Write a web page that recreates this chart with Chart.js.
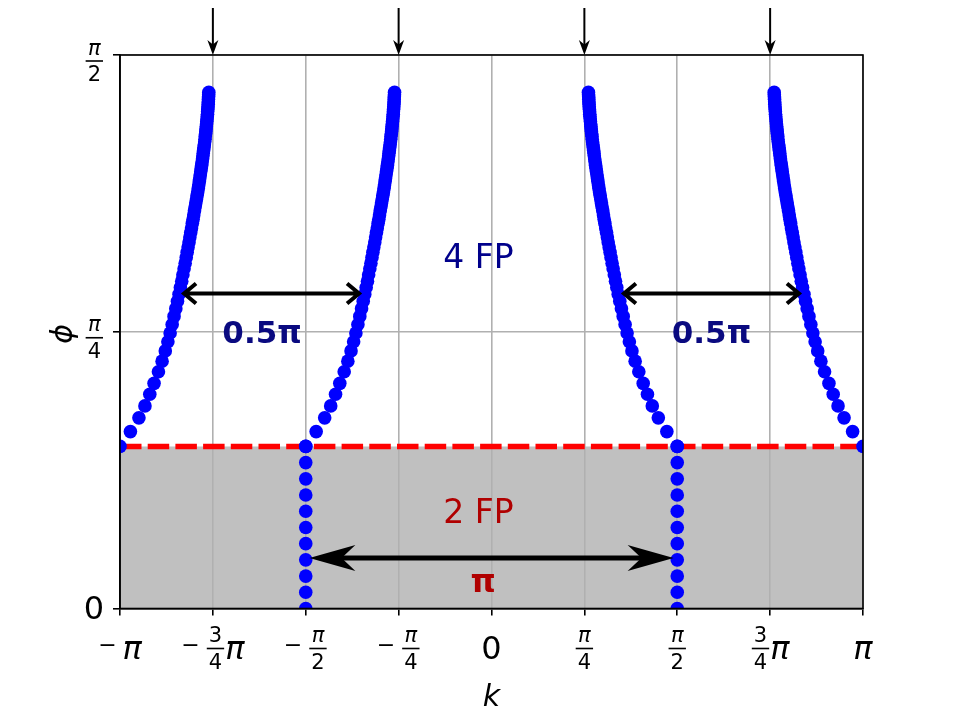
<!DOCTYPE html>
<html>
<head>
<meta charset="utf-8">
<title>Fixed points vs k</title>
<style>
  html, body { margin: 0; padding: 0; background: #fff; }
  #wrap { width: 960px; height: 720px; }
</style>
</head>
<body>
<div id="wrap"><canvas id="phiChart" width="960" height="720"></canvas></div>
<script src="https://cdn.jsdelivr.net/npm/chart.js@4.4.1/dist/chart.umd.min.js"></script>
<script>
const PI = Math.PI;

// phi where the 4 fixed points collapse into 2
const phiCrit = 0.46;

// one branch: phi, and how far k has moved from the branch root
const branchPhi = [0.460, 0.502, 0.541, 0.575, 0.608, 0.639, 0.672, 0.702, 0.731, 0.757,
  0.782, 0.806, 0.829, 0.851, 0.872, 0.892, 0.911, 0.929, 0.947, 0.964,
  0.980, 0.996, 1.011, 1.026, 1.040, 1.054, 1.067, 1.080, 1.093, 1.105,
  1.117, 1.129, 1.140, 1.151, 1.162, 1.172, 1.182, 1.192, 1.202, 1.212,
  1.222, 1.231, 1.240, 1.249, 1.258, 1.267, 1.276, 1.284, 1.292, 1.300,
  1.308, 1.316, 1.324, 1.332, 1.340, 1.347, 1.354, 1.361, 1.368, 1.375,
  1.382, 1.389, 1.396, 1.403, 1.410, 1.417, 1.424, 1.431, 1.438, 1.445,
  1.452, 1.458, 1.465];
const branchOffset = [0.000, 0.088, 0.160, 0.211, 0.252, 0.288, 0.325, 0.356, 0.383, 0.405,
  0.424, 0.441, 0.457, 0.472, 0.486, 0.499, 0.511, 0.522, 0.532, 0.542,
  0.551, 0.560, 0.568, 0.576, 0.584, 0.591, 0.598, 0.605, 0.612, 0.618,
  0.624, 0.630, 0.636, 0.641, 0.647, 0.652, 0.657, 0.662, 0.666, 0.671,
  0.675, 0.679, 0.683, 0.687, 0.691, 0.694, 0.698, 0.701, 0.704, 0.707,
  0.710, 0.713, 0.716, 0.719, 0.721, 0.724, 0.726, 0.728, 0.730, 0.732,
  0.734, 0.736, 0.738, 0.740, 0.741, 0.743, 0.744, 0.746, 0.747, 0.748,
  0.749, 0.750, 0.751];
// the four branches start at these k and run right (+1) or left (-1)
const branchRoot = [-PI, -PI / 2, PI / 2, PI];
const branchDir = [1, 1, -1, -1];

// the 2 FP columns below phiCrit
const columnK = [-PI / 2, PI / 2];
const columnPhi = [0, 0.046, 0.092, 0.138, 0.184, 0.230, 0.276, 0.322, 0.368, 0.414, 0.460];

// ticks
const xTickValues = [-PI, -3 * PI / 4, -PI / 2, -PI / 4, 0, PI / 4, PI / 2, 3 * PI / 4, PI];
const xTickLabels = ['−π', '−[3/4]π', '−[π/2]', '−[π/4]', '0', '[π/4]', '[π/2]', '[3/4]π', 'π'];
const yTickValues = [0, PI / 4, PI / 2];
const yTickLabels = ['0', '[π/4]', '[π/2]'];

// annotations (data units)
const noteText = ['4 FP', '2 FP', '0.5π', '0.5π', 'π'];
const noteK = [-0.11, -0.11, -1.94, 1.86, -0.07];
const notePhi = [0.966, 0.242, 0.753, 0.753, 0.048];
const gapFromK = [-2.60, 1.12];
const gapToK = [-1.12, 2.60];
const gapPhi = 0.894;
const wideFromK = -1.54, wideToK = 1.54, widePhi = 0.143;
const topArrowK = [-3 * PI / 4, -PI / 4, PI / 4, 3 * PI / 4];

const FONT = '"DejaVu Sans", "Noto Sans", sans-serif';
const noteStyle = [
  {font: '33px ' + FONT, color: '#00008b'},
  {font: '33px ' + FONT, color: '#b00000'},
  {font: 'bold 31px ' + FONT, color: '#0a0a80'},
  {font: 'bold 31px ' + FONT, color: '#0a0a80'},
  {font: 'bold 32px ' + FONT, color: '#b00000'}
];

function branchPoints(b) {
  return branchPhi.map((p, i) => ({x: branchRoot[b] + branchDir[b] * branchOffset[i], y: p}));
}

let datasets = [];
for (let b = 0; b < branchRoot.length; b++) {
  datasets.push({data: branchPoints(b), order: 1});
}
columnK.forEach(k => {
  datasets.push({data: columnPhi.map(p => ({x: k, y: p})), order: 1});
});
datasets = datasets.map(d => Object.assign(d, {
  pointRadius: 6.8, pointBackgroundColor: '#0000ff', pointBorderWidth: 0,
  showLine: false, clip: 0
}));
datasets.push({
  type: 'line',
  data: [{x: -PI, y: phiCrit}, {x: PI, y: phiCrit}],
  borderColor: '#ff0000', borderWidth: 5.5, borderDash: [21.5, 6.2],
  fill: 'origin', backgroundColor: '#c0c0c0',
  pointRadius: 0, order: 5, clip: 0
});

// math-ish tick labels: [a/b] is a fraction
const MAIN = 32, SMALL = 21;
function mathFont(s, size) {
  return (s === 'π' ? 'italic ' : '') + size + 'px ' + FONT;
}
function layoutMath(ctx, label) {
  const toks = [];
  let i = 0;
  while (i < label.length) {
    const c = label[i];
    if (c === '[') {
      const j = label.indexOf(']', i);
      const parts = label.slice(i + 1, j).split('/');
      ctx.font = mathFont(parts[0], SMALL);
      const wn = ctx.measureText(parts[0]).width;
      ctx.font = mathFont(parts[1], SMALL);
      const wd = ctx.measureText(parts[1]).width;
      toks.push({kind: 'frac', n: parts[0], d: parts[1], w: Math.max(wn, wd) + 6});
      i = j + 1;
    } else if (c === '−') {
      ctx.font = '22px ' + FONT;
      toks.push({kind: 'minus', w: ctx.measureText('−').width + 6});
      i++;
    } else {
      ctx.font = mathFont(c, MAIN);
      toks.push({kind: 'ch', t: c, w: ctx.measureText(c).width});
      i++;
    }
  }
  return toks;
}
function drawMath(ctx, label, x, base, align) {
  const toks = layoutMath(ctx, label);
  const total = toks.reduce((s, t) => s + t.w, 0);
  let cx = align === 'right' ? x - total : x - total / 2;
  ctx.fillStyle = '#000';
  ctx.textBaseline = 'alphabetic';
  toks.forEach(t => {
    if (t.kind === 'frac') {
      const mid = cx + t.w / 2;
      ctx.textAlign = 'center';
      ctx.font = mathFont(t.n, SMALL);
      ctx.fillText(t.n, mid, base - 17);
      ctx.font = mathFont(t.d, SMALL);
      ctx.fillText(t.d, mid, base + 9.5);
      ctx.fillRect(cx + 1, base - 11.3, t.w - 2, 1.6);
    } else if (t.kind === 'minus') {
      ctx.textAlign = 'left';
      ctx.font = '22px ' + FONT;
      ctx.fillText('−', cx, base - 6.7);
    } else {
      ctx.textAlign = 'left';
      ctx.font = mathFont(t.t, MAIN);
      ctx.fillText(t.t, cx, base);
    }
    cx += t.w;
  });
}

function barbHead(ctx, tx, ty, ux, uy, len, half, notch) {
  const nx = -uy, ny = ux;
  const bx = tx - ux * len, by = ty - uy * len;
  ctx.beginPath();
  ctx.moveTo(tx, ty);
  ctx.lineTo(bx + nx * half, by + ny * half);
  ctx.lineTo(tx - ux * len * notch, ty - uy * len * notch);
  ctx.lineTo(bx - nx * half, by - ny * half);
  ctx.closePath();
  ctx.fill();
}

const decor = {
  id: 'decor',
  afterDraw(chart) {
    const ctx = chart.ctx;
    const xs = chart.scales.x, ys = chart.scales.y;
    const a = chart.chartArea;
    ctx.save();

    // frame
    ctx.strokeStyle = '#000';
    ctx.lineWidth = 1.6;
    ctx.strokeRect(a.left, a.top, a.right - a.left, a.bottom - a.top);

    // tick labels
    xTickValues.forEach((v, i) => drawMath(ctx, xTickLabels[i], xs.getPixelForValue(v), a.bottom + 50.5, 'center'));
    yTickValues.forEach((v, i) => {
      const lbl = yTickLabels[i];
      const off = lbl.indexOf('[') >= 0 ? 16.5 : 10.5;
      drawMath(ctx, lbl, 104, ys.getPixelForValue(v) + off, 'right');
    });

    // axis titles
    ctx.fillStyle = '#000';
    ctx.font = 'italic 30px ' + FONT;
    ctx.textAlign = 'center';
    ctx.textBaseline = 'alphabetic';
    ctx.fillText('k', (a.left + a.right) / 2, a.bottom + 97.5);
    ctx.save();
    ctx.translate(64.5, (a.top + a.bottom) / 2 + 2);
    ctx.rotate(-PI / 2);
    ctx.textBaseline = 'middle';
    ctx.fillText('ϕ', 0, 0);
    ctx.restore();

    // notes
    noteText.forEach((t, i) => {
      ctx.font = noteStyle[i].font;
      ctx.fillStyle = noteStyle[i].color;
      ctx.textAlign = 'center';
      ctx.textBaseline = 'alphabetic';
      ctx.fillText(t, xs.getPixelForValue(noteK[i]), ys.getPixelForValue(notePhi[i]));
    });

    // 0.5 pi arrows, open heads
    ctx.strokeStyle = '#000';
    ctx.fillStyle = '#000';
    ctx.lineWidth = 4;
    ctx.lineJoin = 'miter';
    const gy = ys.getPixelForValue(gapPhi);
    gapFromK.forEach((k, i) => {
      const x1 = xs.getPixelForValue(k), x2 = xs.getPixelForValue(gapToK[i]);
      ctx.beginPath();
      ctx.moveTo(x1 + 1, gy); ctx.lineTo(x2 - 1, gy);
      ctx.moveTo(x1 + 12, gy - 10); ctx.lineTo(x1, gy); ctx.lineTo(x1 + 12, gy + 10);
      ctx.moveTo(x2 - 12, gy - 10); ctx.lineTo(x2, gy); ctx.lineTo(x2 - 12, gy + 10);
      ctx.stroke();
    });

    // pi arrow, barbed heads
    const wy = ys.getPixelForValue(widePhi);
    const wl = xs.getPixelForValue(wideFromK), wr = xs.getPixelForValue(wideToK);
    ctx.lineWidth = 5;
    ctx.beginPath();
    ctx.moveTo(wl + 30, wy); ctx.lineTo(wr - 30, wy);
    ctx.stroke();
    barbHead(ctx, wl, wy, -1, 0, 46, 13, 0.7);
    barbHead(ctx, wr, wy, 1, 0, 46, 13, 0.7);

    // small arrows above the plot
    ctx.lineWidth = 2;
    topArrowK.forEach(k => {
      const x = xs.getPixelForValue(k);
      ctx.beginPath();
      ctx.moveTo(x, a.top - 47); ctx.lineTo(x, a.top - 10);
      ctx.stroke();
      barbHead(ctx, x, a.top, 0, 1, 15, 5.5, 0.7);
    });

    ctx.restore();
  }
};

const axisStyle = {
  grid: {color: '#b0b0b0', lineWidth: 1.6, tickColor: '#000', tickLength: 7, tickWidth: 1.6},
  border: {color: '#000', width: 1.6},
  ticks: {display: false, autoSkip: false}
};

new Chart(document.getElementById('phiChart').getContext('2d'), {
  type: 'scatter',
  data: {datasets: datasets},
  options: {
    responsive: false,
    animation: false,
    devicePixelRatio: 1,
    events: [],
    layout: {padding: {left: 0, top: 55, right: 97, bottom: 0}},
    plugins: {
      legend: {display: false},
      tooltip: {enabled: false},
      filler: {drawTime: 'beforeDraw'}
    },
    scales: {
      x: Object.assign({
        type: 'linear', min: -PI, max: PI,
        afterBuildTicks: s => { s.ticks = xTickValues.map(v => ({value: v})); },
        afterFit: s => { s.height = 111.5; }
      }, axisStyle),
      y: Object.assign({
        type: 'linear', min: 0, max: PI / 2,
        afterBuildTicks: s => { s.ticks = yTickValues.map(v => ({value: v})); },
        afterFit: s => { s.width = 120; }
      }, axisStyle)
    }
  },
  plugins: [decor]
});
</script>
</body>
</html>
